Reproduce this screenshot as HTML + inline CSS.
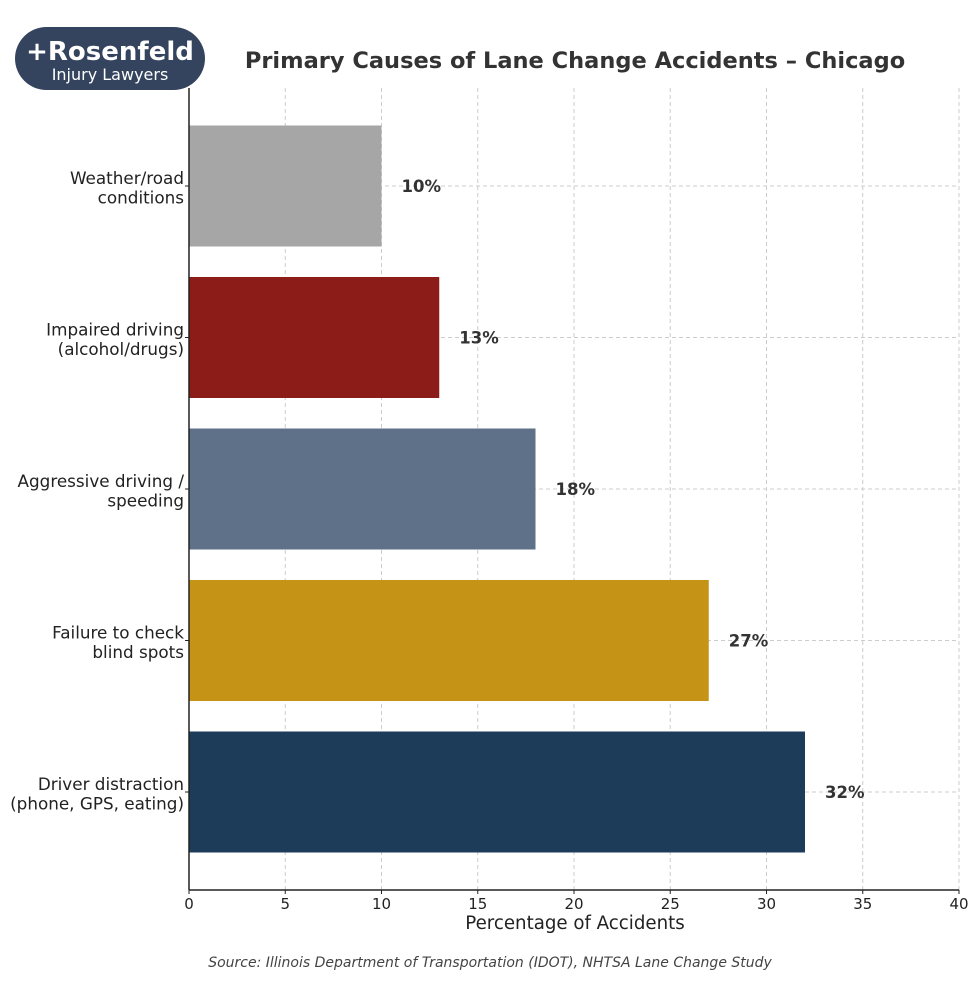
<!DOCTYPE html>
<html><head><meta charset="utf-8"><style>
body{margin:0;background:#fff;}
svg text{font-family:"DejaVu Sans","Liberation Sans",sans-serif;}
</style></head><body>
<svg id="chartsvg" width="980" height="980" viewBox="0 0 980 980" xmlns="http://www.w3.org/2000/svg">
<rect x="0" y="0" width="980" height="980" fill="#fff"/>
<g id="grid"></g>
<g id="bars"></g>
<g id="axes"></g>
<text x="575" y="68" text-anchor="middle" font-size="22.5" font-weight="bold" fill="#333">Primary Causes of Lane Change Accidents – Chicago</text>
<text x="575" y="929" text-anchor="middle" font-size="18.2" fill="#222">Percentage of Accidents</text>
<text x="490" y="967" text-anchor="middle" font-size="14" font-style="italic" fill="#444">Source: Illinois Department of Transportation (IDOT), NHTSA Lane Change Study</text>
<g>
<rect x="15" y="27" width="190" height="63" rx="31.5" fill="#34435e"/>
<text x="110" y="60" text-anchor="middle" font-size="26" font-weight="bold" fill="#fff">+Rosenfeld</text>
<text x="110" y="80" text-anchor="middle" font-size="16" fill="#fff">Injury Lawyers</text>
</g>
</svg>
<script>
const categories=[["Weather/road","conditions"],["Impaired driving","(alcohol/drugs)"],["Aggressive driving /","speeding"],["Failure to check","blind spots"],["Driver distraction","(phone, GPS, eating)"]];
const values=[10,13,18,27,32];
const colors=["#a6a6a6","#8b1c17","#5e7189","#c59416","#1c3c5a"];
const ticks=[0,5,10,15,20,25,30,35,40];
const NS="http://www.w3.org/2000/svg";
const x0=189,x1=959,yTop=88,yBot=890;
const xs=v=>x0+(v-0)/(40-0)*(x1-x0);
const step=151.5,firstC=186,bh=121;
const yc=i=>firstC+i*step;
function mk(t,a,p){const e=document.createElementNS(NS,t);for(const k in a)e.setAttribute(k,a[k]);p.appendChild(e);return e;}
const g=document.getElementById('grid'),b=document.getElementById('bars'),ax=document.getElementById('axes');
ticks.forEach(t=>{if(t===0)return;const l=mk('line',{x1:xs(t),x2:xs(t),y1:yTop,y2:yBot,stroke:'#ccc','stroke-dasharray':'4,3','stroke-width':1},g);

});
categories.forEach((cat,i)=>{const l=mk('line',{x1:x0,x2:x1,y1:yc(i),y2:yc(i),stroke:'#ccc','stroke-dasharray':'4,3','stroke-width':1},g);

});
values.forEach((v,i)=>{
const r=mk('rect',{x:x0,y:yc(i)-bh/2,width:xs(v)-x0,height:bh,fill:colors[i]},b);


const t=mk('text',{x:xs(v)+20,y:yc(i)+6,'font-size':16.5,'font-weight':'bold',fill:'#333'},b);t.textContent=v+'%';


const lab=mk('text',{'text-anchor':'end','font-size':16.8,fill:'#222'},ax);


categories[i].forEach((s,j)=>{const ts=mk('tspan',{x:184,y:yc(i)-2+j*19.5},lab);ts.textContent=s;});
mk('line',{x1:x0-4,x2:x0,y1:yc(i),y2:yc(i),stroke:'#222'},ax);
});
ticks.forEach(t=>{mk('line',{x1:xs(t),x2:xs(t),y1:yBot,y2:yBot+4,stroke:'#222'},ax);
const tt=mk('text',{x:xs(t),y:yBot+19,'text-anchor':'middle','font-size':15,fill:'#222'},ax);tt.textContent=t;

});
const la=mk('line',{x1:x0,x2:x0,y1:yTop,y2:yBot,stroke:'#222','stroke-width':1.5},ax);


const lb=mk('line',{x1:x0,x2:x1,y1:yBot,y2:yBot,stroke:'#222','stroke-width':1.5},ax);


</script>
</body></html>
